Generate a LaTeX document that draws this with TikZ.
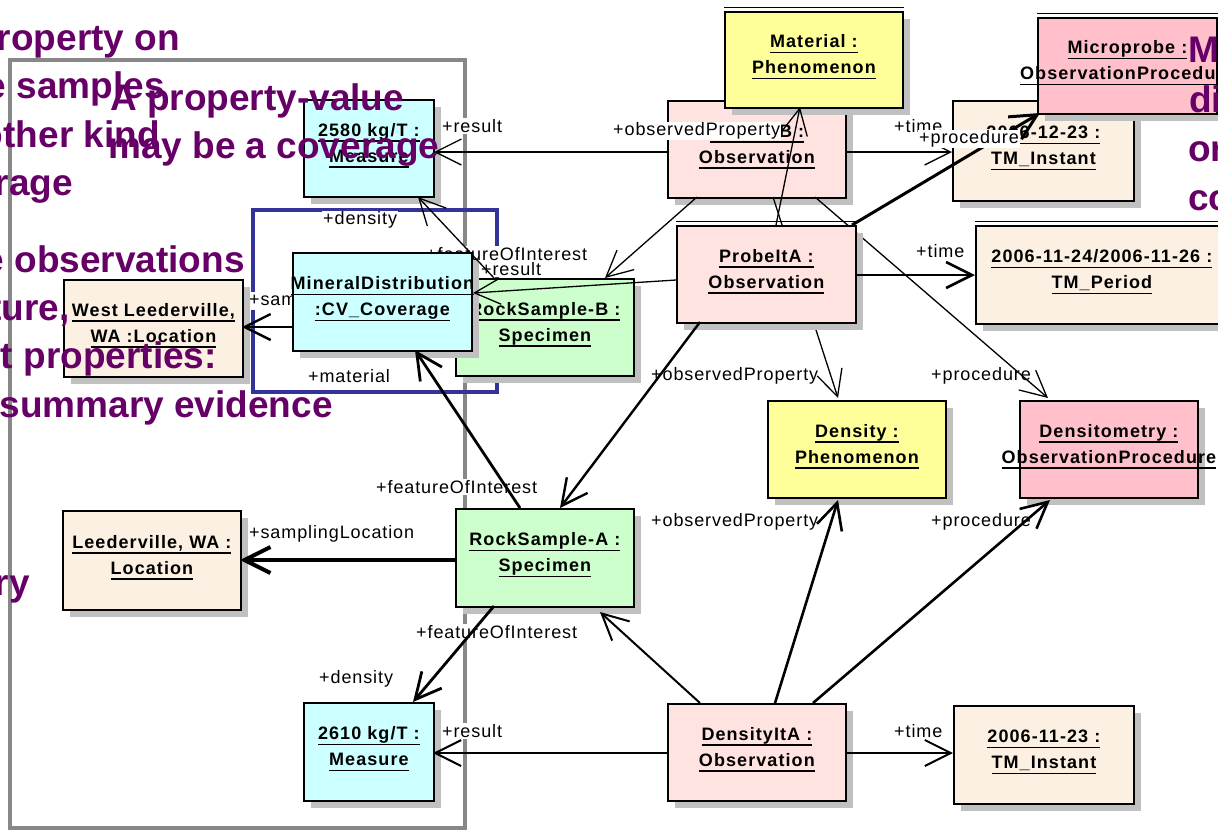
\documentclass[tikz,border=0pt]{standalone}
\usepackage{fontspec}
\setmainfont{Liberation Sans}
\newfontfamily\boxfont{Liberation Sans}[LetterSpace=6]
\newfontfamily\labfont{Liberation Sans}[LetterSpace=5]
\usetikzlibrary{arrows.meta,shadows}
\definecolor{yel}{HTML}{FFFF99}
\definecolor{proc}{HTML}{FFBFCB}
\definecolor{obs}{HTML}{FFE3E0}
\definecolor{loc}{HTML}{FBF0E1}
\definecolor{cya}{HTML}{CCFFFF}
\definecolor{grn}{HTML}{CCFFCC}
\definecolor{pur}{HTML}{660066}
\definecolor{framec}{HTML}{888888}
\definecolor{blu}{HTML}{333399}
\definecolor{shd}{HTML}{C0C0C0}
\newcommand\ulx[1]{\setbox0=\hbox{#1}\rlap{\rule[-5.5pt]{\wd0}{1.4pt}}\box0}
\newcommand\twolines[2]{\makebox[0pt]{\raisebox{0pt}[0pt][0pt]{\begin{tabular}{@{}c@{}}\ulx{#1}\\\ulx{#2}\end{tabular}}}}
\tikzset{
 obj/.style={draw=black, line width=1.8pt, rectangle, inner sep=0pt, anchor=north west,
   font=\boxfont\bfseries\fontsize{18}{26}\selectfont,
   drop shadow={shadow xshift=7pt, shadow yshift=-7pt, fill=shd, opacity=1}},
 lab/.style={font=\labfont\fontsize{18}{20}\selectfont, inner sep=1pt, anchor=west},
 wlab/.style={lab, fill=white},
 con/.style={-{Straight Barb[length=26pt,width=26pt]}, line width=1.3pt},
 ptxt/.style={font=\bfseries\fontsize{37}{49}\selectfont, text=pur, inner sep=0pt},
 topline/.style={line width=1.5pt},
}
\begin{document}
\begin{tikzpicture}[x=1pt,y=-1pt]
\useasboundingbox (0,0) rectangle (1218,831);
\clip (0,0) rectangle (1218,831);
% frames
\draw[framec, line width=4pt] (10,60) rectangle (465,828);
\draw[blu, line width=4pt] (253,210) rectangle (497,392);
% labels lying under boxes and connectors
\node[wlab] (l1) at (441,126) {+result};
\node[wlab] (l3) at (893,126) {+time};
\node[wlab] (l5) at (322,220) {+density};
\node[wlab] (l6) at (425,254) {+featureOfInterest};
\node[wlab] (l7) at (480,269) {+result};
\node[wlab] (l8) at (915,251) {+time};
\node[wlab] (l9) at (248,301) {+samplingLocation};
\node[wlab] (l10) at (307,376) {+material};
\node[wlab] (l11) at (650,376) {+observedProperty};
\node[wlab] (l12) at (930,376) {+procedure};
\node[wlab] (l13) at (375,487) {+featureOfInterest};
\node[wlab] (l14) at (248,534) {+samplingLocation};
\node[wlab] (l15) at (415,632) {+featureOfInterest};
\node[wlab] (l16) at (650,522) {+observedProperty};
\node[wlab] (l17) at (930,522) {+procedure};
\node[wlab] (l18) at (318,679) {+density};
\node[wlab] (l19) at (441,731) {+result};
\node[wlab] (l20) at (893,731) {+time};
% boxes (part 1)
\node[obj, fill=cya, minimum width=130pt, minimum height=97pt] (m1) at (303,99) {\twolines{2580 kg/T :}{Measure}};
\node[obj, fill=obs, minimum width=178pt, minimum height=97pt] (obsB) at (667,100) {\twolines{ProbeItB :}{Observation}};
\node[obj, fill=yel, minimum width=178pt, minimum height=96pt] (mat) at (724,11) {\twolines{Material :}{Phenomenon}};
\node[obj, fill=loc, minimum width=181pt, minimum height=100pt] (tmi1) at (952,100) {\twolines{2006-12-23 :}{TM\_Instant}};
\node[obj, fill=proc, minimum width=179pt, minimum height=96pt] (mic) at (1037,17) {\twolines{Microprobe :}{ObservationProcedure}};
\node[obj, fill=yel, minimum width=178pt, minimum height=97pt] (den) at (767,400) {\twolines{Density :}{Phenomenon}};
\node[obj, fill=proc, minimum width=178pt, minimum height=97pt] (dtm) at (1019,400) {\twolines{Densitometry :}{ObservationProcedure}};
% connectors that pass behind ProbeItA
\draw[con] ([shift={(106,97)}]obsB.north west) -- ([shift={(71,-2)}]den.north west);
\draw[con] ([shift={(148,97)}]obsB.north west) -- ([shift={(29,-2)}]dtm.north west);
% boxes (part 2)
\node[obj, fill=obs, minimum width=179pt, minimum height=97pt] (pa) at (676,225) {\twolines{ProbeItA :}{Observation}};
\node[obj, fill=loc, minimum width=252pt, minimum height=98pt] (tmp) at (975,225) {\twolines{2006-11-24/2006-11-26 :}{TM\_Period}};
\node[obj, fill=grn, minimum width=178pt, minimum height=97pt] (rsb) at (455,278) {\twolines{RockSample-B :}{Specimen}};
\node[obj, fill=cya, minimum width=179pt, minimum height=98pt] (md) at (292,252) {\twolines{MineralDistribution}{:CV\_Coverage}};
\node[obj, fill=loc, minimum width=179pt, minimum height=97pt] (wl) at (63,279) {\twolines{West Leederville,}{WA :Location}};
\node[obj, fill=grn, minimum width=178pt, minimum height=98pt] (rsa) at (455,508) {\twolines{RockSample-A :}{Specimen}};
\node[obj, fill=loc, minimum width=178pt, minimum height=99pt] (leed) at (62,510) {\twolines{Leederville, WA :}{Location}};
\node[obj, fill=cya, minimum width=130pt, minimum height=98pt] (m2) at (303,702) {\twolines{2610 kg/T :}{Measure}};
\node[obj, fill=obs, minimum width=178pt, minimum height=97pt] (dia) at (667,703) {\twolines{DensityItA :}{Observation}};
\node[obj, fill=loc, minimum width=180pt, minimum height=98pt] (tmi2) at (953,705) {\twolines{2006-11-23 :}{TM\_Instant}};
% double top edges
\foreach \n in {mat,mic,pa,tmp}
  \draw[topline] ([yshift=3.5pt]\n.north west) -- ([yshift=3.5pt]\n.north east);
% connectors
\draw[con] ([shift={(0,52)}]obsB.north west) -- ([shift={(131,53)}]m1.north west);
\draw[con] ([shift={(100,0)}]pa.north west) -- ([shift={(76,96)}]mat.north west);
\draw[con, line width=3pt] ([shift={(176,0)}]pa.north west) -- ([shift={(3,96)}]mic.north west);
\draw[con] ([shift={(178,52)}]obsB.north west) -- ([shift={(0,52)}]tmi1.north west);
\draw[con] ([shift={(30,97)}]obsB.north west) -- ([shift={(150,0)}]rsb.north west);
\draw[con, line width=2.6pt] ([shift={(179,50)}]pa.north west) -- ([shift={(0,50)}]tmp.north west);
\draw[con] ([shift={(0,55)}]pa.north west) -- ([shift={(181,41)}]md.north west);
\draw[con, line width=2.4pt] ([shift={(24,97)}]pa.north west) -- ([shift={(105,0)}]rsa.north west);
\draw[con] ([shift={(39,0)}]rsb.north west) -- ([shift={(115,98)}]m1.north west);
\draw[con, line width=2.4pt] ([shift={(0,75)}]md.north west) -- ([shift={(179,48)}]wl.north west);
\draw[con, line width=2.8pt] ([shift={(65,0)}]rsa.north west) -- ([shift={(123,98)}]md.north west);
\draw[con, line width=4pt] ([shift={(0,52)}]rsa.north west) -- ([shift={(178,50)}]leed.north west);
\draw[con, line width=2.8pt] ([shift={(39,98)}]rsa.north west) -- ([shift={(110,0)}]m2.north west);
\draw[con, line width=2pt] ([shift={(33,0)}]dia.north west) -- ([shift={(145,104)}]rsa.north west);
\draw[con, line width=2.6pt] ([shift={(108,0)}]dia.north west) -- ([shift={(71,100)}]den.north west);
\draw[con, line width=2.6pt] ([shift={(146,0)}]dia.north west) -- ([shift={(31,100)}]dtm.north west);
\draw[con, line width=2pt] ([shift={(178,50)}]dia.north west) -- ([shift={(0,48)}]tmi2.north west);
\draw[con, line width=2pt] ([shift={(0,50)}]dia.north west) -- ([shift={(130,51)}]m2.north west);
% labels lying over boxes
\node[wlab] (l2) at (612,131) {+observedProperty};
\node[wlab] (l4) at (918,139) {+procedure};
% purple annotation text
\node[ptxt, anchor=base east] (p1) at (180,50) {roperty on};
\node[ptxt, anchor=base east] (p2) at (165,98) {e samples};
\node[ptxt, anchor=base east] (p3) at (160,147) {other kind};
\node[ptxt, anchor=base east] (p4) at (73,195) {rage};
\node[ptxt, anchor=base west] (p5) at (110,110) {A property-value};
\node[ptxt, anchor=base west] (p6) at (108,158) {may be a coverage};
\node[ptxt, anchor=base east] (p7) at (245,272) {e observations};
\node[ptxt, anchor=base east] (p8) at (70,320) {ture,};
\node[ptxt, anchor=base east] (p9) at (217,368) {t properties:};
\node[ptxt, anchor=base east] (p10) at (333,417) {summary evidence};
\node[ptxt, anchor=base east] (p11) at (30,595) {ry};
\node[ptxt, anchor=base west] (p12) at (1188,62) {M};
\node[ptxt, anchor=base west] (p13) at (1189,112) {di};
\node[ptxt, anchor=base west] (p14) at (1188,161) {or};
\node[ptxt, anchor=base west] (p15) at (1188,210) {co};
\end{tikzpicture}
\end{document}
